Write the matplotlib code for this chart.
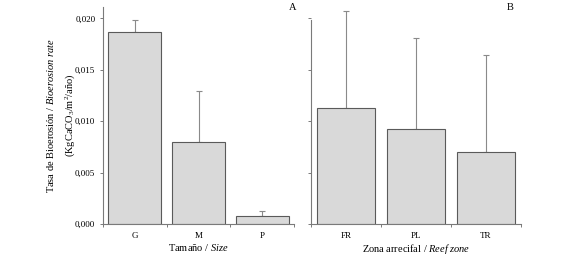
import matplotlib
matplotlib.use("Agg")
import matplotlib.pyplot as plt
import numpy as np

plt.rcParams['font.family'] = 'Liberation Serif'
plt.rcParams['mathtext.fontset'] = 'custom'
plt.rcParams['mathtext.rm'] = 'Liberation Serif'
plt.rcParams['mathtext.it'] = 'Liberation Serif:italic'

# panel A: size classes
size_cats = ['G', 'M', 'P']
size_mean = [0.01866, 0.00799, 0.00078]
size_err = [0.00114, 0.00490, 0.00049]

# panel B: reef zones
zone_cats = ['FR', 'PL', 'TR']
zone_mean = [0.01126, 0.00928, 0.00701]
zone_err = [0.00942, 0.00884, 0.00945]

yticks = [0.0, 0.005, 0.010, 0.015, 0.020]
ytick_labels = ['0,000', '0,005', '0,010', '0,015', '0,020']

bar_face = '#d9d9d9'
bar_edge = '#5a5a5a'
spine_col = '#7a7a7a'
ymax = 0.0211

fig = plt.figure(figsize=(5.67, 2.56), dpi=100)
axA = fig.add_axes((103 / 567, 32 / 256, 191 / 567, 217 / 256))
axB = fig.add_axes((311 / 567, 32 / 256, 210 / 567, 217 / 256))


def draw_panel(ax, cats, mean, err, spine_top):
    x = np.arange(len(cats))
    ax.bar(x, mean, width=0.83, color=bar_face, edgecolor=bar_edge, linewidth=0.8, zorder=2)
    ax.errorbar(x, mean, yerr=[np.zeros(len(err)), err], fmt='none',
                ecolor='#8a8a8a', elinewidth=0.8, capsize=2, capthick=0.8, zorder=1)
    ax.set_xlim(-0.5, len(cats) - 0.5)
    ax.set_ylim(0, ymax)
    ax.set_xticks(x)
    ax.set_xticklabels(cats, fontsize=6.5)
    ax.set_xticks(np.arange(len(cats) + 1) - 0.5, minor=True)
    ax.tick_params(axis='x', which='major', length=0, pad=6)
    ax.tick_params(axis='x', which='minor', length=2.5, color=spine_col, width=0.7)
    ax.tick_params(axis='y', length=2.5, color=spine_col, width=0.7, labelsize=6.5, pad=3)
    for s in ['top', 'right']:
        ax.spines[s].set_visible(False)
    for s in ['left', 'bottom']:
        ax.spines[s].set_color(spine_col)
        ax.spines[s].set_linewidth(0.8)
    ax.spines['left'].set_bounds(0, spine_top)


draw_panel(axA, size_cats, size_mean, size_err, ymax)
axA.set_yticks(yticks)
axA.set_yticklabels(ytick_labels)
axA.set_xlabel('Tamaño / $\\mathit{Size}$', fontsize=7.5, labelpad=1)
axA.set_ylabel('Tasa de Bioerosión / $\\mathit{Bioerosion\\ rate}$\n(KgCaCO$_3$/m$^2$/año)',
               fontsize=7.5, linespacing=1.7)
axA.yaxis.set_label_coords(-0.137, 0.5)

draw_panel(axB, zone_cats, zone_mean, zone_err, 0.0198)
axB.set_yticks(yticks)
axB.set_yticklabels([])
axB.set_xlabel('Zona arrecifal / $\\mathit{Reef\\ zone}$', fontsize=7.5, labelpad=1)

fig.text(293 / 567, 1 - 8 / 256, 'A', fontsize=7.5, ha='center', va='center')
fig.text(510 / 567, 1 - 8 / 256, 'B', fontsize=7.5, ha='center', va='center')

fig.savefig('out.png', dpi=100)
